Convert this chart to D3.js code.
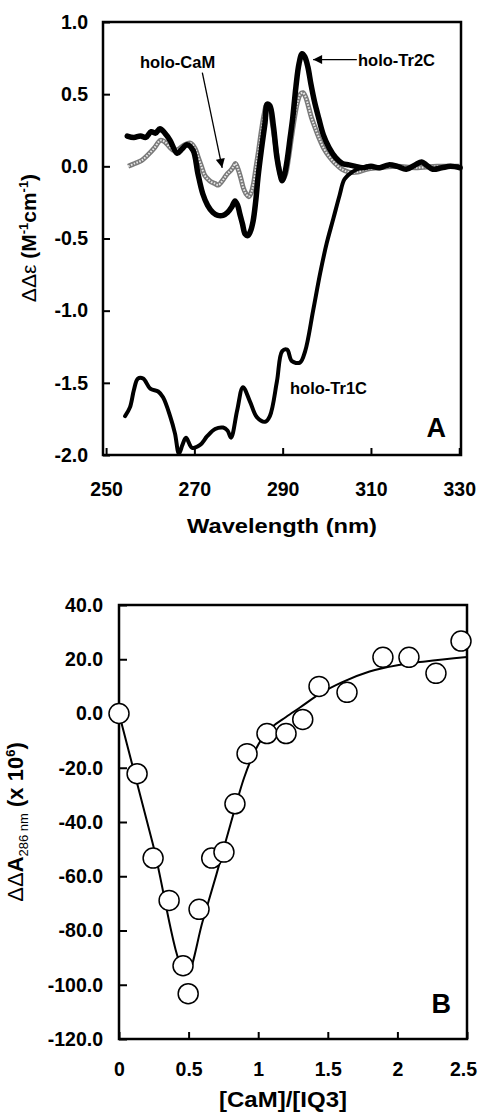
<!DOCTYPE html>
<html>
<head>
<meta charset="utf-8">
<script src="https://cdn.jsdelivr.net/npm/d3@7"></script>
<style>
  body { margin: 0; background: #fff; }
  text { font-family: "Liberation Sans", Arial, Helvetica, sans-serif; }
</style>
</head>
<body>
<script>
// ---- panel A : CD difference spectra ----
var tr2cWl = [254.8,256.3,257.8,259,260.2,261.2,262.2,263.3,264.5,266.1,267.2,268.3,269.7,270.8,271.9,273,274.2,275.3,276.5,277.5,278.5,279.2,279.8,280.3,280.9,281.5,282.1,282.7,283.3,283.9,284.4,285.2,286,286.5,287.1,287.9,288.7,289.3,289.9,290.4,291,291.7,292.3,293,293.7,294.4,295,295.7,296.4,297.2,298.2,299.2,300.5,302,303.5,305,306.5,308,310,312,314,316,318,320,321.5,322.5,324,326,328,330.2];
var tr2cVal = [0.21,0.20,0.21,0.20,0.24,0.23,0.26,0.23,0.18,0.09,0.12,0.15,0.11,-0.05,-0.19,-0.27,-0.32,-0.34,-0.34,-0.32,-0.28,-0.24,-0.27,-0.33,-0.40,-0.47,-0.48,-0.45,-0.38,-0.24,-0.08,0.12,0.30,0.43,0.42,0.28,0.06,-0.04,-0.10,-0.06,0.04,0.20,0.34,0.55,0.71,0.78,0.76,0.69,0.57,0.45,0.33,0.22,0.13,0.06,0.02,0.01,0.00,-0.01,0.00,-0.01,0.01,0.00,-0.02,0.01,0.03,0.01,-0.02,-0.01,0.00,-0.01];

var camWl = [255,256.5,258,259.5,261,262.3,263.3,264.5,265.4,266.5,267.8,269.2,270.2,270.9,271.6,272.3,273.1,273.9,274.7,275.4,276.1,276.8,277.5,278.2,278.9,279.3,279.9,280.5,281.1,281.7,282.3,282.9,283.4,284,284.6,285.2,285.8,286.4,287,287.6,288.3,289.1,289.6,290.1,290.7,291.3,292,292.7,293.4,294,294.6,295.2,295.8,296.5,297.2,298.2,299.4,300.5,301.9,303.4,305,307,309,312,316,320,325,330];
var camVal = [0.00,0.02,0.04,0.08,0.13,0.18,0.17,0.13,0.11,0.12,0.15,0.16,0.12,0.06,0.00,-0.06,-0.09,-0.11,-0.12,-0.13,-0.11,-0.08,-0.05,-0.03,0.00,0.02,-0.02,-0.08,-0.15,-0.19,-0.21,-0.18,-0.12,0.00,0.12,0.25,0.36,0.43,0.41,0.31,0.16,0.00,-0.07,-0.09,-0.05,0.05,0.20,0.34,0.45,0.50,0.51,0.48,0.42,0.34,0.28,0.20,0.12,0.07,0.02,-0.02,-0.04,-0.04,-0.02,-0.01,0.00,-0.01,0.00,0.00];

var tr1cWl = [254.3,255.4,256.3,257.2,258.4,260,261.8,262.9,264.5,265.6,266.5,267.3,268.1,269.5,271.3,272.9,274.7,276.5,277.5,278.3,279.7,281,282.6,284.2,286,287.1,288.7,289.9,291,292.1,293.9,295.1,296.9,298.5,300,301.5,302.9,304,305.7,307.3,309];
var tr1cVal = [-1.73,-1.67,-1.55,-1.47,-1.47,-1.54,-1.56,-1.60,-1.73,-1.85,-1.99,-1.93,-1.88,-1.95,-1.93,-1.87,-1.82,-1.81,-1.83,-1.88,-1.69,-1.53,-1.63,-1.74,-1.77,-1.73,-1.49,-1.28,-1.27,-1.35,-1.36,-1.28,-1.00,-0.74,-0.53,-0.36,-0.20,-0.09,-0.04,-0.015,0.0];

var wlTicks = [250, 270, 290, 310, 330];
var epsTicks = [1.0, 0.5, 0.0, -0.5, -1.0, -1.5, -2.0];

// ---- panel B : titration ----
var ratio = [0, 0.13, 0.245, 0.36, 0.46, 0.497, 0.575, 0.666, 0.754, 0.833, 0.92, 1.063, 1.2, 1.32, 1.437, 1.638, 1.896, 2.083, 2.277, 2.457];
var dA286 = [0.0, -22.2, -53.3, -68.9, -93.0, -103.3, -72.2, -53.3, -51.1, -33.3, -14.8, -7.4, -7.4, -2.2, 10.0, 7.8, 20.7, 20.7, 14.8, 26.7];
var fitRatio = [0, 0.24, 0.49, 0.6, 0.7, 0.8, 0.9, 1.0, 1.1, 1.2, 1.3, 1.45, 1.6, 1.8, 2.0, 2.2, 2.5];
var fitA286 = [0, -47.5, -96, -76.8, -59.3, -41, -23.5, -11.5, -5, -1.3, 2.2, 7.5, 11.5, 15.5, 17.8, 19.2, 20.8];
var ratioTicks = [0, 0.5, 1, 1.5, 2, 2.5];
var aTicks = [40, 20, 0, -20, -40, -60, -80, -100, -120];

var W = 479, H = 1119;
var svg = d3.select("body").append("svg").attr("width", W).attr("height", H);

var tickFont = "bold 19.5px 'Liberation Sans', Arial, sans-serif";

function styleAxis(g) {
  g.select(".domain").remove();
  g.selectAll(".tick line").attr("stroke", "#000").attr("stroke-width", 2);
  g.selectAll(".tick text").style("font", tickFont).attr("fill", "#000");
}

// ================= Panel A =================
var xA = d3.scaleLinear().domain([249.3, 330.4]).range([103, 461]);
var yA = d3.scaleLinear().domain([-2, 1]).range([455, 22]);

svg.append("g")
  .attr("transform", "translate(0," + yA(-2) + ")")
  .call(d3.axisBottom(xA).tickValues(wlTicks).tickSize(-7).tickPadding(27).tickFormat(d3.format("d")))
  .call(styleAxis);

svg.append("g")
  .attr("transform", "translate(" + xA.range()[0] + ",0)")
  .call(d3.axisLeft(yA).tickValues(epsTicks).tickSize(-7).tickPadding(15).tickFormat(function (d) { return d.toFixed(1); }))
  .call(styleAxis);

var lineA = d3.line().x(function (d) { return xA(d[0]); }).y(function (d) { return yA(d[1]); }).curve(d3.curveCatmullRom);

var camData = d3.zip(camWl, camVal);
svg.append("path").datum(camData).attr("d", lineA)
  .attr("fill", "none").attr("stroke", "#7a7a7a").attr("stroke-width", 5).attr("stroke-linejoin", "round");
svg.append("path").datum(camData).attr("d", lineA)
  .attr("fill", "none").attr("stroke", "#e8e8e8").attr("stroke-width", 2).attr("stroke-dasharray", "1.6 1.4");

svg.append("path").datum(d3.zip(tr1cWl, tr1cVal)).attr("d", lineA)
  .attr("fill", "none").attr("stroke", "#000").attr("stroke-width", 4).attr("stroke-linejoin", "round").attr("stroke-linecap", "round");

svg.append("path").datum(d3.zip(tr2cWl, tr2cVal)).attr("d", lineA)
  .attr("fill", "none").attr("stroke", "#000").attr("stroke-width", 5.5).attr("stroke-linejoin", "round").attr("stroke-linecap", "round");

svg.append("rect")
  .attr("x", xA.range()[0]).attr("y", yA(1))
  .attr("width", xA.range()[1] - xA.range()[0]).attr("height", yA(-2) - yA(1))
  .attr("fill", "none").attr("stroke", "#000").attr("stroke-width", 2.5);

// arrow heads
var defs = svg.append("defs");
defs.append("marker").attr("id", "arrow")
  .attr("viewBox", "0 0 10 10").attr("refX", 10).attr("refY", 5)
  .attr("markerWidth", 11).attr("markerHeight", 9).attr("markerUnits", "userSpaceOnUse")
  .attr("orient", "auto")
  .append("path").attr("d", "M0,0 L10,5 L0,10 Z").attr("fill", "#000");

// holo-CaM label + arrow
svg.append("text").attr("x", 140).attr("y", 68)
  .style("font", "bold 16.5px 'Liberation Sans', Arial, sans-serif").text("holo-CaM");
svg.append("line")
  .attr("x1", xA(271.8)).attr("y1", yA(0.65)).attr("x2", xA(276.3)).attr("y2", yA(-0.01))
  .attr("stroke", "#000").attr("stroke-width", 1.3).attr("marker-end", "url(#arrow)");

// holo-Tr2C label + arrow
svg.append("text").attr("x", 358).attr("y", 66)
  .style("font", "bold 16.5px 'Liberation Sans', Arial, sans-serif").text("holo-Tr2C");
svg.append("line")
  .attr("x1", xA(306.8)).attr("y1", yA(0.74)).attr("x2", xA(296.9)).attr("y2", yA(0.74))
  .attr("stroke", "#000").attr("stroke-width", 1.3).attr("marker-end", "url(#arrow)");

// holo-Tr1C label
svg.append("text").attr("x", 290).attr("y", 394)
  .style("font", "bold 16.5px 'Liberation Sans', Arial, sans-serif").text("holo-Tr1C");

// panel letter
svg.append("text").attr("x", 446).attr("y", 437).attr("text-anchor", "end")
  .style("font", "bold 27px 'Liberation Sans', Arial, sans-serif").text("A");

// axis titles
svg.append("text").attr("x", 282).attr("y", 533).attr("text-anchor", "middle")
  .attr("textLength", 190).attr("lengthAdjust", "spacingAndGlyphs")
  .style("font", "bold 21px 'Liberation Sans', Arial, sans-serif").text("Wavelength (nm)");

var tA = svg.append("text")
  .attr("transform", "translate(36,238) rotate(-90)")
  .attr("text-anchor", "middle")
  .style("font", "bold 21px 'Liberation Sans', Arial, sans-serif");
tA.append("tspan").style("font-weight", "normal").text("ΔΔε ");
tA.append("tspan").text("(M");
tA.append("tspan").attr("dy", -8).style("font-size", "13px").text("-1");
tA.append("tspan").attr("dy", 8).text("cm");
tA.append("tspan").attr("dy", -8).style("font-size", "13px").text("-1");
tA.append("tspan").attr("dy", 8).text(")");

// ================= Panel B =================
var xB = d3.scaleLinear().domain([0, 2.5]).range([119, 467]);
var yB = d3.scaleLinear().domain([-120, 40]).range([1039, 605]);

svg.append("g")
  .attr("transform", "translate(0," + yB(-120) + ")")
  .call(d3.axisBottom(xB).tickValues(ratioTicks).tickSize(-7).tickPadding(23).tickFormat(function (d) { return String(d); }))
  .call(styleAxis)
  .call(function (g) { g.selectAll(".tick:last-of-type text").attr("dx", -4); });

svg.append("g")
  .attr("transform", "translate(" + xB(0) + ",0)")
  .call(d3.axisLeft(yB).tickValues(aTicks).tickSize(-8).tickPadding(16).tickFormat(function (d) { return d.toFixed(1); }))
  .call(styleAxis);

svg.append("rect")
  .attr("x", xB(0)).attr("y", yB(40))
  .attr("width", xB(2.5) - xB(0)).attr("height", yB(-120) - yB(40))
  .attr("fill", "none").attr("stroke", "#000").attr("stroke-width", 2.5);

var lineB = d3.line().x(function (d) { return xB(d[0]); }).y(function (d) { return yB(d[1]); }).curve(d3.curveMonotoneX);
svg.append("path").datum(d3.zip(fitRatio, fitA286)).attr("d", lineB)
  .attr("fill", "none").attr("stroke", "#000").attr("stroke-width", 2);

svg.append("g").selectAll("circle")
  .data(d3.zip(ratio, dA286))
  .enter().append("circle")
  .attr("cx", function (d) { return xB(d[0]); })
  .attr("cy", function (d) { return yB(d[1]); })
  .attr("r", 10)
  .attr("fill", "#fff").attr("stroke", "#000").attr("stroke-width", 1.5);

svg.append("text").attr("x", 451).attr("y", 1013).attr("text-anchor", "end")
  .style("font", "bold 27px 'Liberation Sans', Arial, sans-serif").text("B");

svg.append("text").attr("x", 283).attr("y", 1107).attr("text-anchor", "middle")
  .attr("textLength", 128).attr("lengthAdjust", "spacingAndGlyphs")
  .style("font", "bold 22px 'Liberation Sans', Arial, sans-serif").text("[CaM]/[IQ3]");

var tB = svg.append("text")
  .attr("transform", "translate(23,822) rotate(-90)")
  .attr("text-anchor", "middle")
  .style("font", "bold 22px 'Liberation Sans', Arial, sans-serif");
tB.append("tspan").style("font-weight", "normal").text("ΔΔ");
tB.append("tspan").text("A");
tB.append("tspan").attr("dy", 5).style("font-size", "13px").style("font-weight", "normal").text("286 nm");
tB.append("tspan").attr("dy", -5).text(" (x 10");
tB.append("tspan").attr("dy", -8).style("font-size", "13px").text("6");
tB.append("tspan").attr("dy", 8).text(")");
</script>
</body>
</html>
